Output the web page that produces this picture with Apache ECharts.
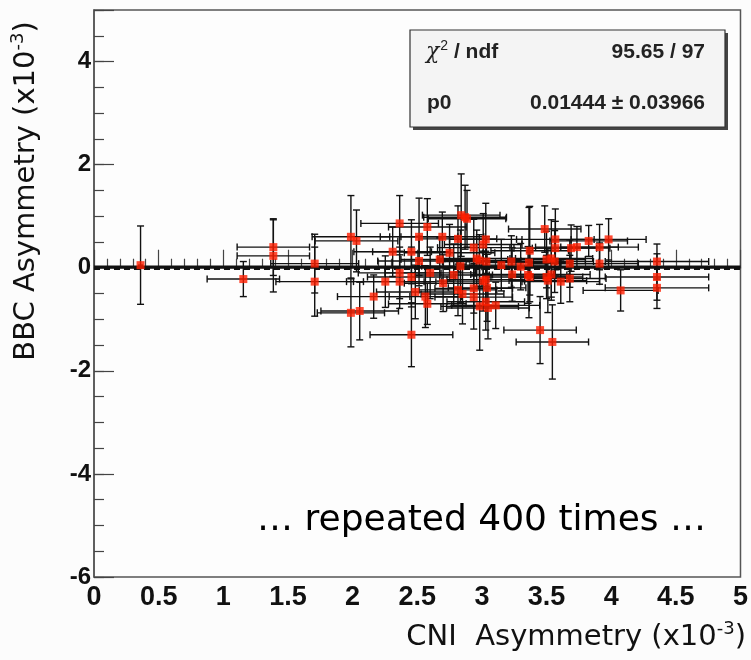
<!DOCTYPE html>
<html>
<head>
<meta charset="utf-8">
<script src="https://cdn.jsdelivr.net/npm/echarts@6/dist/echarts.min.js"></script>
<style>
html,body{margin:0;padding:0;background:#fcfcfc;}
#chart{width:751px;height:660px;}
</style>
</head>
<body>
<div id="chart"></div>
<script>
// CNI asymmetry (x1e-3)
const xVals = [0.36,1.155,1.387,1.387,1.707,1.707,1.987,2.03,1.987,2.055,2.163,2.253,2.31,2.364,2.364,2.364,2.455,2.455,2.455,2.485,2.514,2.514,2.563,2.578,2.578,2.674,2.694,2.75,2.782,2.815,2.815,2.85,2.834,2.84,2.87,2.885,2.937,2.937,2.937,2.96,2.98,2.983,3.01,3.03,3.035,3.01,3.03,3.04,3.03,3.047,3.107,3.228,3.234,3.37,3.364,3.357,3.37,3.45,3.486,3.50,3.537,3.563,3.50,3.537,3.51,3.545,3.568,3.568,3.61,3.68,3.68,3.69,3.735,3.826,3.91,3.91,3.98,4.073,4.354,4.354,4.354,2.60,2.70,3.15,3.30];
// BBC asymmetry (x1e-3)
const yVals = [0.05,-0.22,0.40,0.23,0.08,-0.27,0.60,0.52,-0.875,-0.84,-0.56,-0.27,0.31,0.86,-0.10,-0.27,0.31,-0.18,-1.30,-0.47,0.60,0.13,-0.56,0.79,-0.70,0.16,0.60,0.29,-0.14,0.56,-0.43,-0.51,0.03,1.02,0.98,0.95,0.39,-0.40,-0.57,0.18,0.14,-0.75,0.45,0.55,0.12,-0.26,-0.23,-0.39,-0.66,-0.78,-0.73,0.12,-0.13,0.33,0.10,-0.14,-0.18,-1.21,0.75,0.16,0.18,0.12,-0.18,-0.13,-0.25,-1.44,0.55,0.38,-0.27,0.08,-0.21,0.38,0.40,0.52,0.40,0.08,0.55,-0.44,0.12,-0.18,-0.39,-0.10,-0.30,0.05,0.02];
// x errors
const xErrs = [0.02,0.28,0.28,0.28,0.34,0.30,0.30,0.32,0.26,0.30,0.28,0.30,0.30,0.30,0.32,0.28,0.30,0.34,0.32,0.30,0.30,0.32,0.28,0.30,0.30,0.30,0.32,0.35,0.30,0.30,0.30,0.32,0.30,0.30,0.32,0.30,0.28,0.30,0.30,0.30,0.32,0.30,0.30,0.28,0.34,0.32,0.30,0.30,0.30,0.32,0.34,0.35,0.32,0.30,0.33,0.30,0.30,0.28,0.28,0.30,0.32,0.30,0.28,0.30,0.30,0.28,0.30,0.32,0.30,0.30,0.28,0.30,0.32,0.30,0.30,0.30,0.29,0.29,0.40,0.40,0.40,0.35,0.30,0.34,0.30];
// y errors
const yErrs = [0.76,0.34,0.55,0.70,0.57,0.67,0.80,0.60,0.66,0.56,0.42,0.50,0.48,0.54,0.50,0.52,0.62,0.58,0.62,0.52,0.75,0.48,0.60,0.55,0.40,0.42,0.48,0.55,0.60,0.64,0.50,0.58,0.70,0.80,0.62,0.55,0.55,0.48,0.62,0.55,0.50,0.85,0.60,0.70,0.48,0.58,0.55,0.65,0.55,0.60,0.45,0.50,0.52,0.86,1.07,0.55,0.48,0.65,0.45,0.55,0.75,0.60,0.42,0.50,0.62,0.72,0.59,0.52,0.42,0.46,0.45,0.45,0.40,0.30,0.44,0.40,0.40,0.40,0.34,0.45,0.40,0.50,0.55,0.50,0.45];
// fit result
const fitP0 = 0.01444;
const fitErr = 0.03966;
const chi2 = '95.65 / 97';
const p0Text = '0.01444 \u00b1 0.03966';
const xTicks = ['0','0.5','1','1.5','2','2.5','3','3.5','4','4.5','5'];

const pts = xVals.map((x, i) => [x, yVals[i], xErrs[i], yErrs[i]]);

const chart = echarts.init(document.getElementById('chart'), null, {renderer: 'canvas'});
const CAP = 3.5;
const tickStyle = {color: '#444', width: 1.2};
const option = {
  backgroundColor: '#fcfcfc',
  animation: false,
  grid: {left: 94, top: 10, right: 9, bottom: 83, show: true, borderColor: '#555', borderWidth: 1.5, backgroundColor: '#fdfdfd'},
  xAxis: {
    type: 'value', min: 0, max: 5, interval: 0.5,
    axisLine: {lineStyle: {color: '#555', width: 1.5}},
    axisTick: {inside: true, length: 18, lineStyle: tickStyle},
    minorTick: {show: true, splitNumber: 5, length: 9, lineStyle: tickStyle},
    splitLine: {show: false},
    axisLabel: {fontFamily: 'Liberation Sans', fontWeight: 'bold', fontSize: 27, color: '#111', margin: 7,
      formatter: v => { const i = Math.round(v / 0.5); return xTicks[i] !== undefined ? xTicks[i] : ''; }}
  },
  yAxis: [
    {
      type: 'value', min: -6, max: 5, interval: 2,
      axisLine: {lineStyle: {color: '#555', width: 1.5}},
      axisTick: {inside: true, length: 20, lineStyle: tickStyle},
      splitLine: {show: false},
      axisLabel: {fontFamily: 'Liberation Sans', fontWeight: 'bold', fontSize: 24, color: '#111', margin: 3,
        formatter: v => (v > 4.5 ? '' : String(v))}
    },
    {
      type: 'value', min: -6, max: 5, interval: 0.5, position: 'left',
      axisLine: {show: false},
      axisTick: {inside: true, length: 10, lineStyle: tickStyle},
      splitLine: {show: false},
      axisLabel: {show: false}
    }
  ],
  series: [
    {
      type: 'line', data: [[0, fitP0 - fitErr], [5, fitP0 - fitErr]], symbol: 'none',
      lineStyle: {color: '#111', width: 2, type: [6, 4]}, z: 3
    },
    {
      type: 'line', data: [[0, fitP0], [5, fitP0]], symbol: 'none',
      lineStyle: {color: '#111', width: 3}, z: 3
    },
    {
      type: 'custom', data: pts, z: 4, clip: true,
      renderItem: function (params, api) {
        const x = api.value(0), y = api.value(1), ex = api.value(2), ey = api.value(3);
        const l = api.coord([x - ex, y]), r = api.coord([x + ex, y]);
        const t = api.coord([x, y + ey]), b = api.coord([x, y - ey]);
        const st = {stroke: '#111', lineWidth: 1.4};
        const ch = [
          {type: 'line', shape: {x1: l[0], y1: l[1], x2: r[0], y2: r[1]}, style: st},
          {type: 'line', shape: {x1: t[0], y1: t[1], x2: b[0], y2: b[1]}, style: st},
          {type: 'line', shape: {x1: t[0] - CAP, y1: t[1], x2: t[0] + CAP, y2: t[1]}, style: st},
          {type: 'line', shape: {x1: b[0] - CAP, y1: b[1], x2: b[0] + CAP, y2: b[1]}, style: st}
        ];
        if (ex > 0.05) {
          ch.push({type: 'line', shape: {x1: l[0], y1: l[1] - CAP, x2: l[0], y2: l[1] + CAP}, style: st});
          ch.push({type: 'line', shape: {x1: r[0], y1: r[1] - CAP, x2: r[0], y2: r[1] + CAP}, style: st});
        }
        return {type: 'group', children: ch};
      }
    },
    {
      type: 'scatter', data: pts.map(p => [p[0], p[1]]), symbol: 'rect', symbolSize: 8,
      itemStyle: {color: '#ff1e00'}, z: 5
    }
  ],
  graphic: [
    {type: 'rect', shape: {x: 413, y: 33, width: 315, height: 97}, style: {fill: '#444'}, z: 10},
    {type: 'rect', shape: {x: 410, y: 30, width: 315, height: 97}, style: {fill: '#f4f4f4', stroke: '#333', lineWidth: 1.2}, z: 11},
    {type: 'text', x: 426, y: 52, z: 12, style: {
      text: '{c|\u03c7}{s|2}{b| / ndf}', textVerticalAlign: 'middle',
      rich: {
        c: {fontFamily: 'DejaVu Serif', fontStyle: 'italic', fontSize: 22, fill: '#222'},
        s: {fontFamily: 'Liberation Sans', fontSize: 14, fill: '#222', verticalAlign: 'top', padding: [0, 0, 12, 1]},
        b: {fontFamily: 'Liberation Sans', fontWeight: 'bold', fontSize: 21, fill: '#222'}
      }}},
    {type: 'text', x: 705, y: 52, z: 12, style: {text: chi2, textAlign: 'right', textVerticalAlign: 'middle',
      fontFamily: 'Liberation Sans', fontWeight: 'bold', fontSize: 21, fill: '#222'}},
    {type: 'text', x: 427, y: 103, z: 12, style: {text: 'p0', textVerticalAlign: 'middle',
      fontFamily: 'Liberation Sans', fontWeight: 'bold', fontSize: 21, fill: '#222'}},
    {type: 'text', x: 705, y: 103, z: 12, style: {text: p0Text, textAlign: 'right', textVerticalAlign: 'middle',
      fontFamily: 'Liberation Sans', fontWeight: 'bold', fontSize: 21, fill: '#222'}},
    {type: 'text', x: 706, y: 521, z: 12, style: {text: '\u2026 repeated 400 times \u2026', textAlign: 'right', textVerticalAlign: 'middle',
      fontFamily: 'DejaVu Sans', fontSize: 36, fill: '#000'}},
    {type: 'text', x: 746, y: 637, z: 12, style: {
      text: '{a|CNI  Asymmetry (x10}{s|-3}{a|)}', textAlign: 'right', textVerticalAlign: 'middle',
      rich: {
        a: {fontFamily: 'DejaVu Sans', fontSize: 29, fill: '#111'},
        s: {fontFamily: 'DejaVu Sans', fontSize: 18, fill: '#111', verticalAlign: 'top', padding: [0, 0, 15, 0]}
      }}},
    {type: 'text', x: 26, y: 191, rotation: Math.PI / 2, z: 12, style: {
      text: '{a|BBC Asymmetry (x10}{s|-3}{a|)}', textAlign: 'center', textVerticalAlign: 'middle',
      rich: {
        a: {fontFamily: 'DejaVu Sans', fontSize: 29, fill: '#111'},
        s: {fontFamily: 'DejaVu Sans', fontSize: 18, fill: '#111', verticalAlign: 'top', padding: [0, 0, 15, 0]}
      }}}
  ]
};
chart.setOption(option);
</script>
</body>
</html>
